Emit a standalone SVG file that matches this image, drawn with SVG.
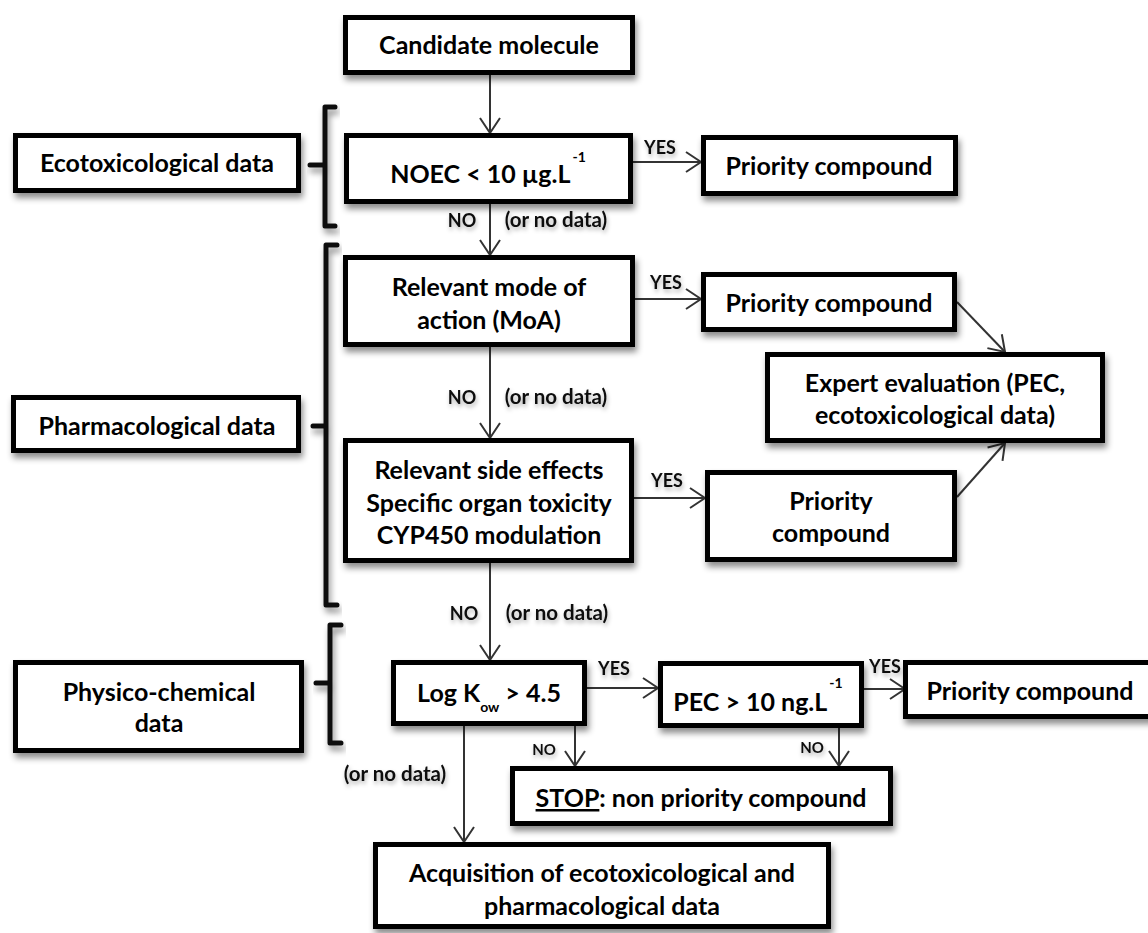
<svg xmlns="http://www.w3.org/2000/svg" width="1148" height="933" viewBox="0 0 1148 933">
<style>
.box{fill:#fff;stroke:#000;stroke-width:5;filter:url(#sh)}
.t{font-family:Lato,"Liberation Sans",sans-serif;font-weight:bold;font-size:25px;fill:#000;text-anchor:middle}
.lb{font-family:Lato,"Liberation Sans",sans-serif;font-weight:bold;font-size:18px;fill:#111;text-anchor:middle;filter:url(#tsh)}
.lb2{font-size:20.5px}
.sm{font-size:15px}
.br{fill:none;stroke:#111;stroke-width:5;stroke-linejoin:round;stroke-linecap:round;filter:url(#sh)}
.c{fill:none;stroke:#333;stroke-width:2;marker-end:url(#ah)}
</style>
<defs>
<filter id="sh" x="-10%" y="-20%" width="130%" height="160%">
<feDropShadow dx="2" dy="5" stdDeviation="3" flood-color="#000" flood-opacity="0.45"/>
</filter>
<filter id="tsh" x="-20%" y="-40%" width="140%" height="190%">
<feDropShadow dx="1" dy="3" stdDeviation="2" flood-color="#000" flood-opacity="0.3"/>
</filter>
<marker id="ah" viewBox="-17 -12 19 24" refX="0" refY="0" markerWidth="19" markerHeight="24" orient="auto" markerUnits="userSpaceOnUse">
<path d="M-15,-10 L0,0 L-15,10" fill="none" stroke="#333" stroke-width="2"/>
</marker>
</defs>
<rect width="1148" height="933" fill="#fff"/>

<g id="brackets">
<path class="br" d="M335,107 H325 V226 H335 M325,165 H310"/>
<path class="br" d="M337,245 H326 V605 H337 M326,426 H313"/>
<path class="br" d="M341,625 H330 V743 H341 M330,683 H316"/>
</g>

<g id="connectors">
<path class="c" d="M490,75 V133"/>
<path class="c" d="M633,162 H701"/>
<path class="c" d="M490,204 V255"/>
<path class="c" d="M635,299 H701"/>
<path class="c" d="M957,302 L1005,352"/>
<path class="c" d="M490,347 V438"/>
<path class="c" d="M634,498 H705"/>
<path class="c" d="M957,497 L1005,443"/>
<path class="c" d="M490,563 V660"/>
<path class="c" d="M587,688 H658"/>
<path class="c" d="M864,689 H905"/>
<path class="c" d="M575,726 V766"/>
<path class="c" d="M839,728 V766"/>
<path class="c" d="M464,726 V842"/>
</g>

<g id="labels">
<text class="lb" x="660" y="154">YES</text>
<text class="lb" x="462" y="227">NO</text>
<text class="lb lb2" x="556" y="227">(or no data)</text>
<text class="lb" x="666" y="289">YES</text>
<text class="lb" x="462" y="404">NO</text>
<text class="lb lb2" x="556" y="404">(or no data)</text>
<text class="lb" x="667" y="487">YES</text>
<text class="lb" x="464" y="620">NO</text>
<text class="lb lb2" x="557" y="620">(or no data)</text>
<text class="lb" x="614" y="675">YES</text>
<text class="lb" x="885" y="673">YES</text>
<text class="lb sm" x="544" y="755">NO</text>
<text class="lb sm" x="812" y="753">NO</text>
<text class="lb lb2" x="395" y="781">(or no data)</text>
</g>

<g id="n-candidate">
<rect class="box" x="345.5" y="17.5" width="287" height="55"/>
<text class="t" x="489" y="54">Candidate molecule</text>
</g>
<g id="n-ecotox">
<rect class="box" x="15.5" y="135.5" width="283" height="55"/>
<text class="t" x="157" y="172">Ecotoxicological data</text>
</g>
<g id="n-noec">
<rect class="box" x="346.5" y="135.5" width="284" height="66"/>
<text class="t" x="488" y="183">NOEC &lt; 10 µg.L<tspan font-size="14" dx="2" dy="-21">-1</tspan></text>
</g>
<g id="n-priority1">
<rect class="box" x="703.5" y="137.5" width="252" height="56"/>
<text class="t" x="829" y="175">Priority compound</text>
</g>
<g id="n-moa">
<rect class="box" x="345.5" y="257.5" width="287" height="87"/>
<text class="t" x="489" y="296">Relevant mode of</text>
<text class="t" x="489" y="329">action (MoA)</text>
</g>
<g id="n-priority2">
<rect class="box" x="703.5" y="274.5" width="251" height="55"/>
<text class="t" x="829" y="312">Priority compound</text>
</g>
<g id="n-expert">
<rect class="box" x="767.5" y="354.5" width="335" height="86"/>
<text class="t" x="935" y="392">Expert evaluation (PEC,</text>
<text class="t" x="935" y="424">ecotoxicological data)</text>
</g>
<g id="n-pharma">
<rect class="box" x="13.5" y="397.5" width="285" height="53"/>
<text class="t" x="157" y="435">Pharmacological data</text>
</g>
<g id="n-side">
<rect class="box" x="345.5" y="440.5" width="286" height="120"/>
<text class="t" x="489" y="479">Relevant side effects</text>
<text class="t" x="489" y="512">Specific organ toxicity</text>
<text class="t" x="489" y="544">CYP450 modulation</text>
</g>
<g id="n-priority3">
<rect class="box" x="707.5" y="472.5" width="247" height="87"/>
<text class="t" x="831" y="510">Priority</text>
<text class="t" x="831" y="542">compound</text>
</g>
<g id="n-physico">
<rect class="box" x="15.5" y="662.5" width="286" height="88"/>
<text class="t" x="159" y="701">Physico-chemical</text>
<text class="t" x="159" y="732">data</text>
</g>
<g id="n-logkow">
<rect class="box" x="393.5" y="662.5" width="191" height="61"/>
<text class="t" x="489" y="702">Log K<tspan font-size="14" dy="10">ow</tspan><tspan dy="-10"> &gt; 4.5</tspan></text>
</g>
<g id="n-pec">
<rect class="box" x="660.5" y="663.5" width="201" height="62"/>
<text class="t" x="758" y="711">PEC &gt; 10 ng.L<tspan font-size="14" dx="2" dy="-23">-1</tspan></text>
</g>
<g id="n-priority4">
<rect class="box" x="905.5" y="662.5" width="260" height="54"/>
<text class="t" x="1030" y="700">Priority compound</text>
</g>
<g id="n-stop">
<rect class="box" x="512.5" y="768.5" width="378" height="55"/>
<text class="t" x="701" y="807"><tspan text-decoration="underline">STOP</tspan>: non priority compound</text>
</g>
<g id="n-acq">
<rect class="box" x="375.5" y="844.5" width="453" height="82"/>
<text class="t" x="602" y="882">Acquisition of ecotoxicological and</text>
<text class="t" x="602" y="915">pharmacological data</text>
</g>
</svg>
